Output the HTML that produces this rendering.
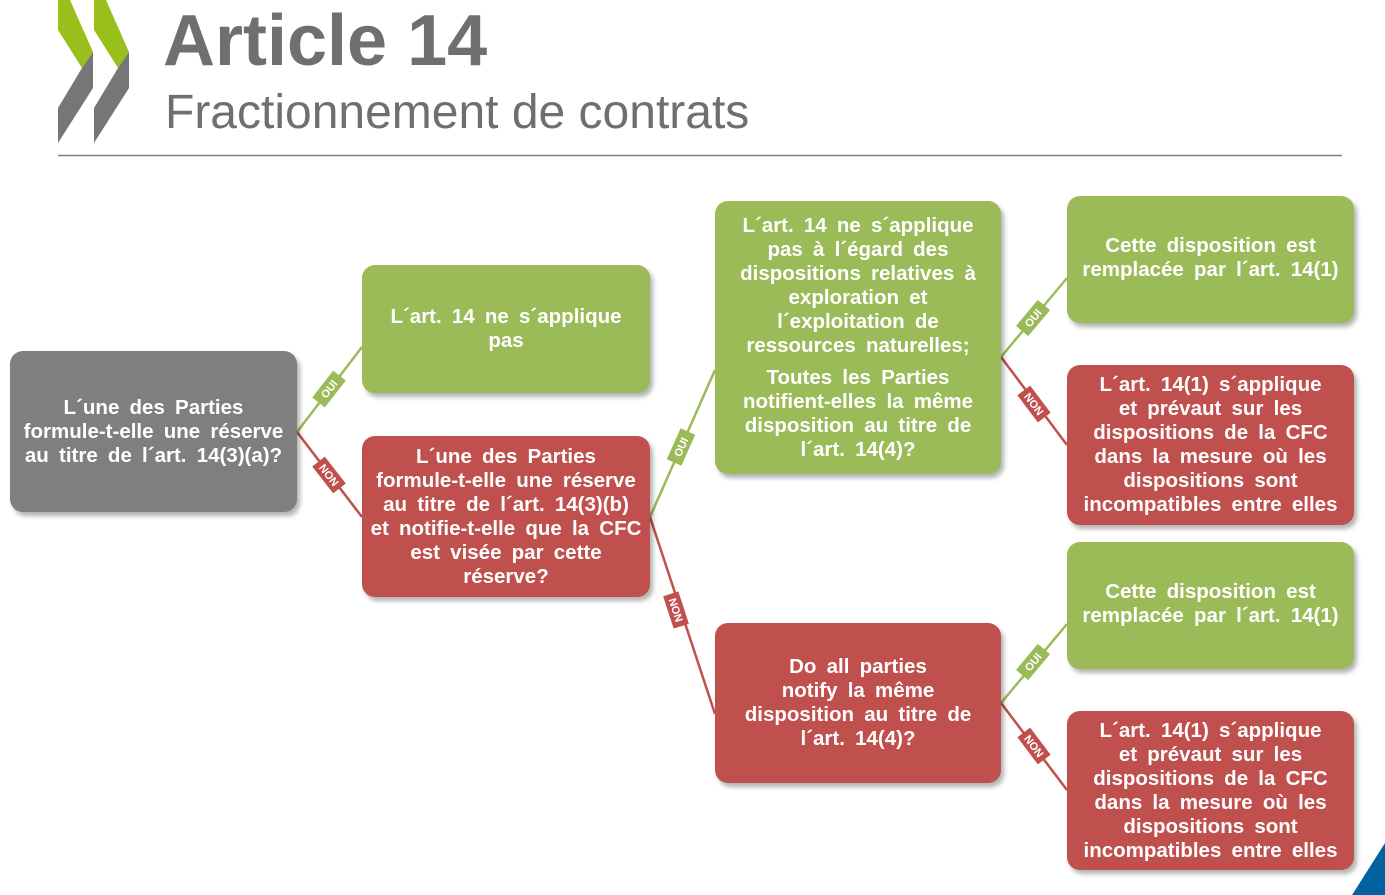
<!DOCTYPE html>
<html><head><meta charset="utf-8"><style>
body{margin:0;width:1385px;height:895px;background:#fff;position:relative;overflow:hidden;font-family:"Liberation Sans",Arial,sans-serif}
.b{position:absolute;border-radius:13px;color:#fff;font-weight:bold;font-size:20.5px;line-height:24px;text-align:center;display:flex;flex-direction:column;justify-content:center;align-items:center;box-shadow:3px 4px 5px rgba(0,0,0,.3);word-spacing:4.5px;white-space:nowrap}
.g{background:#9bbb59}.r{background:#c0504d}.k{background:#7f7f7f}
.t1{position:absolute;left:163px;top:0px;font-size:72px;font-weight:bold;color:#6f6f6f}
.t2{position:absolute;left:165px;top:85px;font-size:48px;color:#6f6f6f}
</style></head><body>
<svg width="1385" height="895" style="position:absolute;left:0;top:0">
<g>
<polygon points="58,0 70,0 93,52 82,68 58,30" fill="#99c01a"/>
<polygon points="93,52 93,88 58,143 58,108 82,68" fill="#767676"/>
<polygon points="94,0 106,0 129,52 118,68 94,30" fill="#99c01a"/>
<polygon points="129,52 129,88 94,143 94,108 118,68" fill="#767676"/>
</g>
<line x1="58" y1="155.5" x2="1342" y2="155.5" stroke="#7f7f7f" stroke-width="1.5"/>
<g stroke-width="2.5">
<line x1="297" y1="432" x2="362" y2="347" stroke="#9bbb59"/>
<line x1="297" y1="432" x2="362" y2="517" stroke="#c0504d"/>
<line x1="650" y1="517" x2="715" y2="370" stroke="#9bbb59"/>
<line x1="650" y1="517" x2="715" y2="714" stroke="#c0504d"/>
<line x1="1001" y1="357" x2="1067" y2="278" stroke="#9bbb59"/>
<line x1="1001" y1="357" x2="1067" y2="445" stroke="#c0504d"/>
<line x1="1001" y1="703" x2="1067" y2="624" stroke="#9bbb59"/>
<line x1="1001" y1="703" x2="1067" y2="790" stroke="#c0504d"/>
</g>
<g font-family="Liberation Sans,Arial,sans-serif" font-size="11" font-weight="bold" fill="#fff" text-anchor="middle">
<g transform="translate(329,389) rotate(-52)"><rect x="-17" y="-8" width="34" height="16" fill="#9bbb59"/><text y="4">OUI</text></g>
<g transform="translate(329,475) rotate(52)"><rect x="-17" y="-8" width="34" height="16" fill="#c0504d"/><text y="4">NON</text></g>
<g transform="translate(681,447) rotate(-66)"><rect x="-17" y="-8" width="34" height="16" fill="#9bbb59"/><text y="4">OUI</text></g>
<g transform="translate(676,610) rotate(72)"><rect x="-17" y="-8" width="34" height="16" fill="#c0504d"/><text y="4">NON</text></g>
<g transform="translate(1033,318) rotate(-50)"><rect x="-17" y="-8" width="34" height="16" fill="#9bbb59"/><text y="4">OUI</text></g>
<g transform="translate(1034,404) rotate(53)"><rect x="-17" y="-8" width="34" height="16" fill="#c0504d"/><text y="4">NON</text></g>
<g transform="translate(1033,662) rotate(-50)"><rect x="-17" y="-8" width="34" height="16" fill="#9bbb59"/><text y="4">OUI</text></g>
<g transform="translate(1034,746) rotate(53)"><rect x="-17" y="-8" width="34" height="16" fill="#c0504d"/><text y="4">NON</text></g>
</g>
<polygon points="1352,895 1385,843 1385,895" fill="#0063a0"/>
</svg>
<div class="t1">Article 14</div>
<div class="t2">Fractionnement de contrats</div>
<div class="b k" style="left:10px;top:351px;width:287px;height:161px">L´une des Parties<br>formule-t-elle une réserve<br>au titre de l´art. 14(3)(a)?</div>
<div class="b g" style="left:362px;top:265px;width:288px;height:128px">L´art. 14 ne s´applique<br>pas</div>
<div class="b r" style="left:362px;top:436px;width:288px;height:161px">L´une des Parties<br>formule-t-elle une réserve<br>au titre de l´art. 14(3)(b)<br>et notifie-t-elle que la CFC<br>est visée par cette<br>réserve?</div>
<div class="b g" style="left:715px;top:201px;width:286px;height:273px;line-height:24px">L´art. 14 ne s´applique<br>pas à l´égard des<br>dispositions relatives à<br>exploration et<br>l´exploitation de<br>ressources naturelles;<div style="height:8px"></div>Toutes les Parties<br>notifient-elles la même<br>disposition au titre de<br>l´art. 14(4)?</div>
<div class="b r" style="left:715px;top:623px;width:286px;height:160px">Do all parties<br>notify la même<br>disposition au titre de<br>l´art. 14(4)?</div>
<div class="b g" style="left:1067px;top:196px;width:287px;height:127px;justify-content:flex-start"><div style="margin-top:38px">Cette disposition est<br>remplacée par l´art. 14(1)</div></div>
<div class="b r" style="left:1067px;top:365px;width:287px;height:160px">L´art. 14(1) s´applique<br>et prévaut sur les<br>dispositions de la CFC<br>dans la mesure où les<br>dispositions sont<br>incompatibles entre elles</div>
<div class="b g" style="left:1067px;top:542px;width:287px;height:127px;justify-content:flex-start"><div style="margin-top:38px">Cette disposition est<br>remplacée par l´art. 14(1)</div></div>
<div class="b r" style="left:1067px;top:711px;width:287px;height:159px">L´art. 14(1) s´applique<br>et prévaut sur les<br>dispositions de la CFC<br>dans la mesure où les<br>dispositions sont<br>incompatibles entre elles</div>
</body></html>
